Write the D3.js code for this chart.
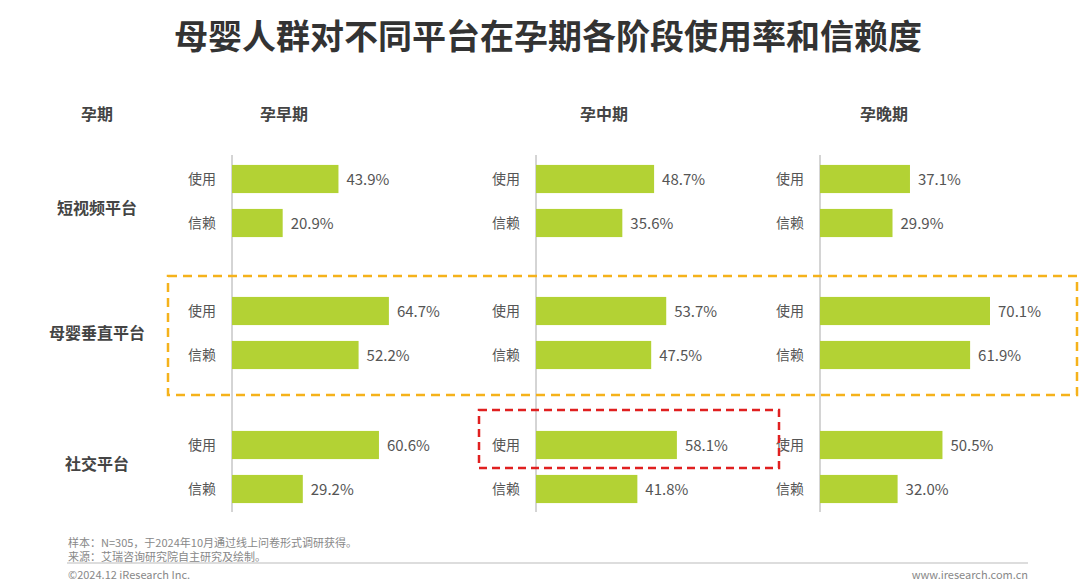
<!DOCTYPE html>
<html><head><meta charset="utf-8">
<script src="https://cdn.jsdelivr.net/npm/d3@7"></script>
<style>body{margin:0;background:#fff}text{font-family:"Noto Sans CJK SC","Noto Sans",sans-serif}</style>
</head><body><svg id="c" width="1080" height="588"></svg>
<script>
const stages = ["孕早期","孕中期","孕晚期"];
const platforms = ["短视频平台","母婴垂直平台","社交平台"];
const metrics = ["使用","信赖"];
// values[platform][stage] = [使用, 信赖]
const shortVideo = [[43.9,20.9],[48.7,35.6],[37.1,29.9]];
const vertical = [[64.7,52.2],[53.7,47.5],[70.1,61.9]];
const social = [[60.6,29.2],[58.1,41.8],[50.5,32.0]];
const values = [shortVideo, vertical, social];

const svg = d3.select("#c");
svg.append("text").attr("x",548).attr("y",49).attr("text-anchor","middle")
  .attr("font-size",34).attr("font-weight",700).attr("fill","#333").text("母婴人群对不同平台在孕期各阶段使用率和信赖度");

const panelX = d3.scaleOrdinal().domain(stages).range([232,536,820]);
const headX = d3.scaleOrdinal().domain(stages).range([284,604,884]);
const x = d3.scaleLinear().domain([0,100]).range([0,242.5]);
const groupY = d3.scaleOrdinal().domain(platforms).range([157,289,423]);
const labelY = d3.scaleOrdinal().domain(platforms).range([214,339,470]);
const rowY = d3.scaleBand().domain(metrics).range([0,88]).paddingInner(0.36).paddingOuter(0.18);

svg.append("text").attr("x",97).attr("y",120).attr("text-anchor","middle").attr("font-size",16).attr("font-weight",700).attr("fill","#444").text("孕期");
stages.forEach(s=>{
  svg.append("text").attr("x",headX(s)).attr("y",120).attr("text-anchor","middle").attr("font-size",16).attr("font-weight",700).attr("fill","#444").text(s);
  svg.append("line").attr("x1",panelX(s)).attr("x2",panelX(s)).attr("y1",155).attr("y2",512).attr("stroke","#aaa").attr("stroke-width",1);
});
platforms.forEach((p,pi)=>{
  const gy = groupY(p);
  svg.append("text").attr("x",97).attr("y",labelY(p)).attr("text-anchor","middle").attr("font-size",16).attr("font-weight",700).attr("fill","#444").text(p);
  stages.forEach((s,si)=>{
    metrics.forEach((m,mi)=>{
      const v = values[pi][si][mi];
      const y0 = gy + rowY(m);
      svg.append("rect").attr("x",panelX(s)).attr("y",y0).attr("width",x(v)).attr("height",rowY.bandwidth()).attr("fill","#b3d234");
      svg.append("text").attr("x",panelX(s)-16).attr("y",y0+rowY.bandwidth()/2+5).attr("text-anchor","end").attr("font-size",14).attr("fill","#555").text(m);
      svg.append("text").attr("x",panelX(s)+x(v)+8).attr("y",y0+rowY.bandwidth()/2+5.5).attr("font-size",15).attr("fill","#555").text(v.toFixed(1)+"%");
    });
  });
});
svg.append("rect").attr("x",168).attr("y",276).attr("width",909).attr("height",119).attr("fill","none")
  .attr("stroke","#f5b21b").attr("stroke-width",2.5).attr("stroke-dasharray","9,6");
svg.append("rect").attr("x",479).attr("y",410).attr("width",300).attr("height",58).attr("fill","none")
  .attr("stroke","#e02020").attr("stroke-width",2.5).attr("stroke-dasharray","8,5");
svg.append("line").attr("x1",67).attr("x2",1028).attr("y1",563).attr("y2",563).attr("stroke","#bbb");
svg.append("text").attr("x",68).attr("y",547).attr("font-size",11).attr("fill","#888").text("样本：N=305，于2024年10月通过线上问卷形式调研获得。");
svg.append("text").attr("x",68).attr("y",561).attr("font-size",11).attr("fill","#888").text("来源：艾瑞咨询研究院自主研究及绘制。");
svg.append("text").attr("x",68).attr("y",579).attr("font-size",11).attr("fill","#888").text("©2024.12 iResearch Inc.");
svg.append("text").attr("x",1028).attr("y",579).attr("text-anchor","end").attr("font-size",11).attr("fill","#888").text("www.iresearch.com.cn");
</script></body></html>
